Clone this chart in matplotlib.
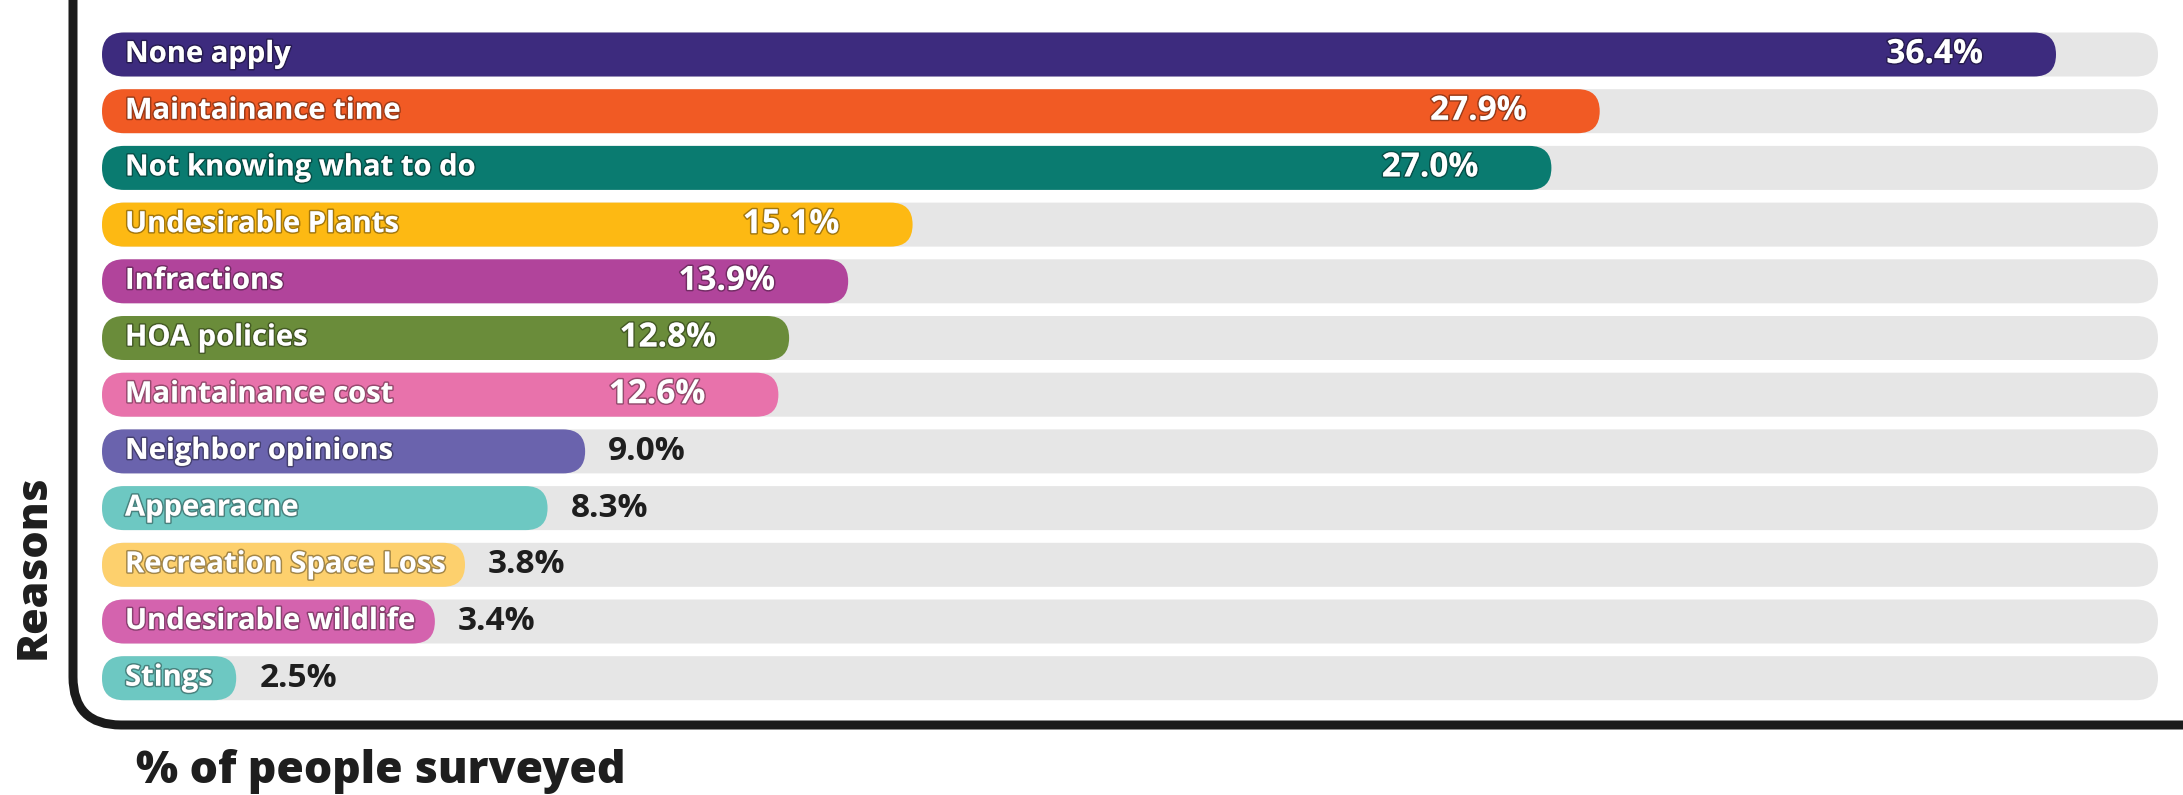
import matplotlib
matplotlib.use("Agg")
import matplotlib.pyplot as plt
from matplotlib.patches import FancyBboxPatch
import matplotlib.patheffects as pe

# ---------------- data ----------------
reasons = ["None apply", "Maintainance time", "Not knowing what to do",
           "Undesirable Plants", "Infractions", "HOA policies",
           "Maintainance cost", "Neighbor opinions", "Appearacne",
           "Recreation Space Loss", "Undesirable wildlife", "Stings"]
percent = [36.4, 27.9, 27.0, 15.1, 13.9, 12.8, 12.6, 9.0, 8.3, 3.8, 3.4, 2.5]
colors = ["#3d2b7e", "#f15a24", "#0a7b70", "#fdb913", "#b1449b", "#6a8c3a",
          "#e872ab", "#6a63ad", "#6dc8c2", "#fdd06d", "#d463ae", "#6dc8c2"]
value_labels = [f"{v:.1f}%" for v in percent]
track_max = 38.3          # length of the grey background track (%)
inside_min = 10.0         # values at/above this get their label inside the bar
x_label = "% of people surveyed"
y_label = "Reasons"

# ---------------- layout ----------------
W, H, DPI = 2183, 795, 100
PT = 72.0 / DPI                       # points per pixel
FONT = ["Open Sans", "DejaVu Sans"]
TRACK = "#e6e6e6"
DARK = "#1e1e1e"

fig = plt.figure(figsize=(W / DPI, H / DPI), dpi=DPI)
fig.patch.set_facecolor("white")

# decoration layer in pixel units (frame + axis titles)
deco = fig.add_axes([0, 0, 1, 1], zorder=0)
deco.set_xlim(0, W)
deco.set_ylim(H, 0)
deco.axis("off")
frame = FancyBboxPatch((73, -400), 2800, 400 + 725,
                       boxstyle="round,pad=0,rounding_size=48",
                       fill=False, lw=9 * PT, ec="#1b1b1b")
deco.add_patch(frame)
deco.text(136, 783, x_label, ha="left", va="baseline", fontsize=32,
          fontweight="heavy", family=FONT, color=DARK)
deco.text(34, 567, y_label, ha="center", va="center", rotation=90,
          fontsize=31, fontweight="heavy", family=FONT, color=DARK)

# main bar axes
left_px, right_px = 102, 2158
row_px = 56.7
first_center = 54.5
n = len(reasons)
top_px = first_center - row_px / 2
bottom_px = top_px + n * row_px
ax = fig.add_axes([left_px / W, 1 - bottom_px / H,
                   (right_px - left_px) / W, (bottom_px - top_px) / H], zorder=1)
ax.set_xlim(0, track_max)
ax.set_ylim(n - 0.5, -0.5)
ax.axis("off")

px_x = (right_px - left_px) / track_max
px_y = row_px
bar_px = 44.0
bar_h = bar_px / px_y
rad = (bar_px / 2 - 0.05) / px_x
asp = px_x / px_y


def pill(x0, w, y, color, z):
    p = FancyBboxPatch((x0, y - bar_h / 2), w, bar_h,
                       boxstyle=f"round,pad=0,rounding_size={rad}",
                       mutation_aspect=asp, fc=color, ec="none", zorder=z)
    ax.add_patch(p)
    return p


white_fx = [pe.withStroke(linewidth=2.2, foreground=(0, 0, 0, 0.35))]

labels = []
for i, name in enumerate(reasons):
    pill(0, track_max, i, TRACK, 1)
    t = ax.annotate(name, (0, i), xytext=(23 * PT, 0), textcoords="offset points",
                    ha="left", va="center", color="white", fontsize=21,
                    fontweight="bold", family=FONT, path_effects=white_fx, zorder=4)
    labels.append(t)

fig.canvas.draw()
renderer = fig.canvas.get_renderer()
inv = ax.transData.inverted()
for i, (v, c, vl, t) in enumerate(zip(percent, colors, value_labels, labels)):
    bb = t.get_window_extent(renderer)
    label_end = inv.transform((bb.x1, 0))[0] + 20 / px_x
    w = max(v, label_end)
    pill(0, w, i, c, 2)
    if v >= inside_min:
        ax.annotate(vl, (w, i), xytext=(-73 * PT, 0), textcoords="offset points",
                    ha="right", va="center", color="white", fontsize=24,
                    fontweight="bold", family=FONT, path_effects=white_fx, zorder=4)
    else:
        ax.annotate(vl, (w, i), xytext=(23 * PT, 0), textcoords="offset points",
                    ha="left", va="center", color=DARK, fontsize=24,
                    fontweight="bold", family=FONT, zorder=4)

fig.savefig("out.png", dpi=DPI, facecolor="white")
